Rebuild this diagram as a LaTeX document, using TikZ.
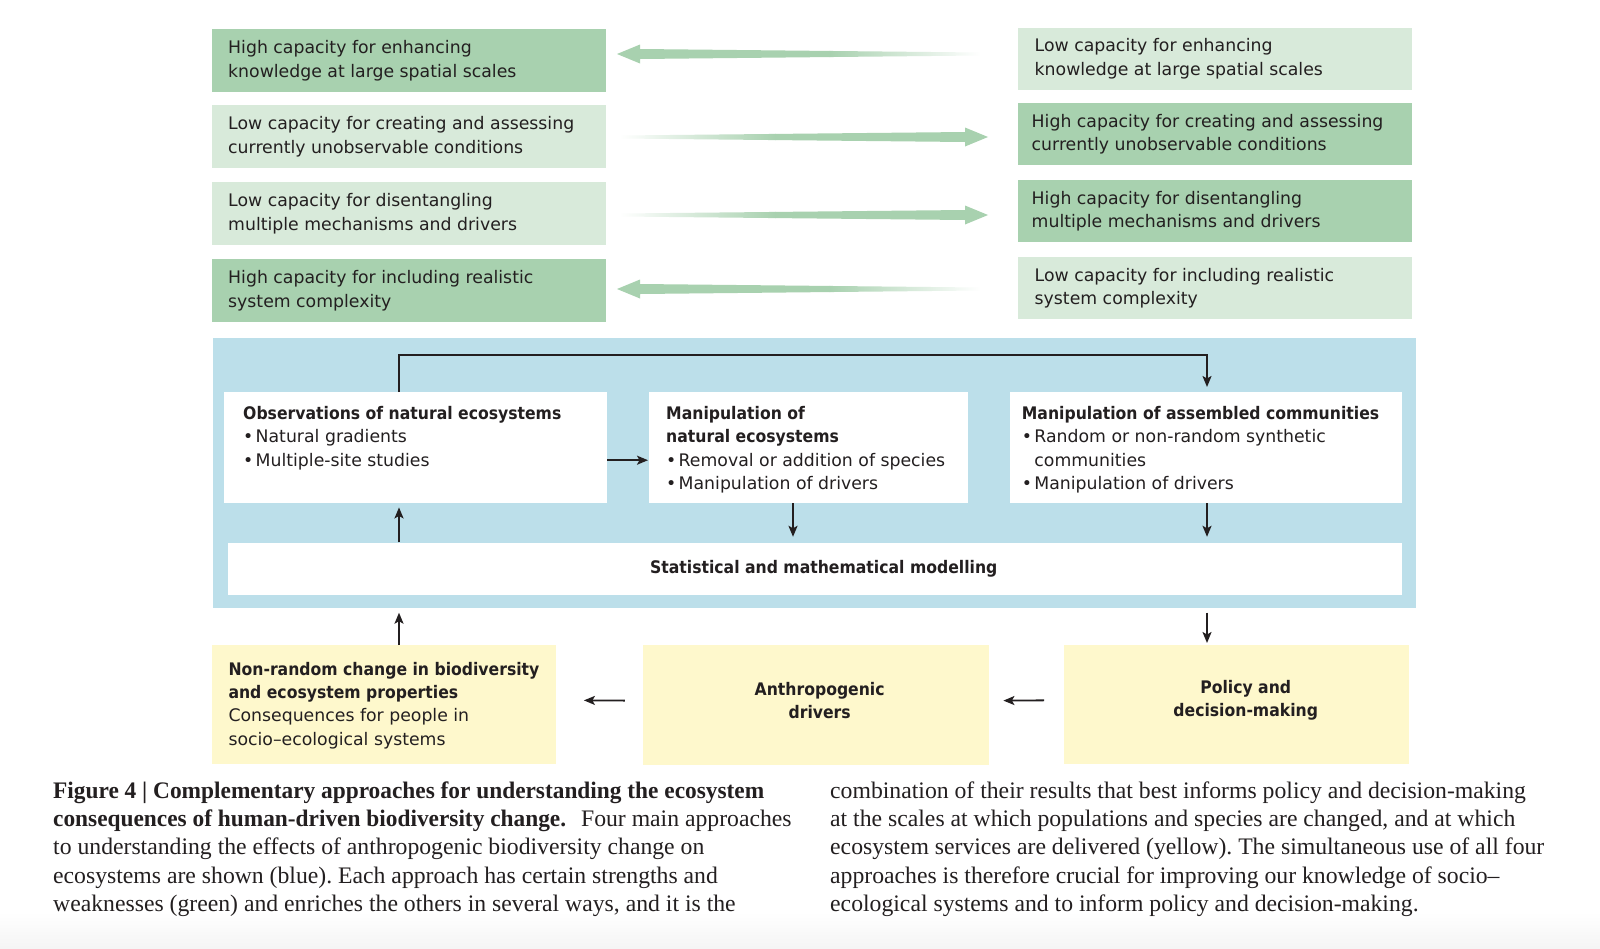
\documentclass[tikz,border=0pt]{standalone}
\usepackage{fontspec}
\setmainfont{Liberation Serif}[BoldFeatures={FakeStretch=0.985}]
\newfontfamily\boxfamily{DejaVu Sans}[BoldFeatures={FakeStretch=0.905}]
\usetikzlibrary{arrows.meta}
\definecolor{gdark}{HTML}{A8D1AF}
\definecolor{glight}{HTML}{D8EADA}
\definecolor{pblue}{HTML}{BCDFEA}
\definecolor{pyel}{HTML}{FEF8CC}
\definecolor{ink}{HTML}{231F20}
\newcommand\bxfont{\boxfamily\fontsize{17.3}{23.3}\selectfont}
\newcommand\capfont{\fontsize{23.7}{28.2}\selectfont\frenchspacing}
\newcommand\bul{\makebox[12.5pt][l]{•}}
\newcommand\bigleftarrow{%
  \fill[gdark] (617,0)--(640,-9.5)--(640,-5)--(830,-3.04)--(830,3.04)--(640,5)--(640,9.5)--cycle;
  \shade[left color=gdark,right color=white] (829.5,-3.04)--(980,-1.5)--(980,1.5)--(829.5,3.04)--cycle;}
\newcommand\bigrightarrow{%
  \fill[gdark] (988,0)--(965,-9.5)--(965,-5)--(775,-3.07)--(775,3.07)--(965,5)--(965,9.5)--cycle;
  \shade[left color=white,right color=gdark] (620,-1.5)--(775.5,-3.07)--(775.5,3.07)--(620,1.5)--cycle;}
\begin{document}
\begin{tikzpicture}[x=1pt,y=-1pt,
  box/.style={draw=none, inner sep=0pt, anchor=north west},
  gD/.style={box, fill=gdark, minimum width=394pt},
  gL/.style={box, fill=glight, minimum width=394pt},
  wbox/.style={box, fill=white},
  ybox/.style={box, fill=pyel},
  txt/.style={inner sep=0pt, align=left, font=\bxfont, text=ink},
  captxt/.style={inner sep=0pt, anchor=north west, align=left, font=\capfont, text=ink},
  conn/.style={draw=ink, line width=1.8pt, -{Stealth[length=11pt,width=9pt,inset=2.5pt]}},
]
\fill[white] (0,0) rectangle (1600,948);
\useasboundingbox (0,0) rectangle (1600,948);
\shade[top color=white,bottom color=black!4] (0,912) rectangle (1600,948);

% ---- green strengths / weaknesses ----
\node[gD, minimum height=63pt] (L1) at (212,29) {};
\node[gL, minimum height=63pt] (L2) at (212,105) {};
\node[gL, minimum height=63pt] (L3) at (212,182) {};
\node[gD, minimum height=63pt] (L4) at (212,259) {};
\node[gL, minimum height=62pt] (R1) at (1018,27.5) {};
\node[gD, minimum height=62pt] (R2) at (1018,103) {};
\node[gD, minimum height=62pt] (R3) at (1018,180) {};
\node[gL, minimum height=62pt] (R4) at (1018,257) {};

\node[txt, anchor=west, xshift=16pt] (tL1) at (L1.west) {High capacity for enhancing\\knowledge at large spatial scales};
\node[txt, anchor=west, xshift=16pt] (tL2) at (L2.west) {Low capacity for creating and assessing\\currently unobservable conditions};
\node[txt, anchor=west, xshift=16pt] (tL3) at (L3.west) {Low capacity for disentangling\\multiple mechanisms and drivers};
\node[txt, anchor=west, xshift=16pt] (tL4) at (L4.west) {High capacity for including realistic\\system complexity};
\node[txt, anchor=west, xshift=16.5pt] (tR1) at (R1.west) {Low capacity for enhancing\\knowledge at large spatial scales};
\node[txt, anchor=west, xshift=13.5pt] (tR2) at (R2.west) {High capacity for creating and assessing\\currently unobservable conditions};
\node[txt, anchor=west, xshift=13.5pt] (tR3) at (R3.west) {High capacity for disentangling\\multiple mechanisms and drivers};
\node[txt, anchor=west, xshift=16.5pt] (tR4) at (R4.west) {Low capacity for including realistic\\system complexity};

\begin{scope}[shift={(0,54)}]\bigleftarrow\end{scope}
\begin{scope}[shift={(0,137)}]\bigrightarrow\end{scope}
\begin{scope}[shift={(0,215)}]\bigrightarrow\end{scope}
\begin{scope}[shift={(0,289)}]\bigleftarrow\end{scope}

% ---- blue panel ----
\node[box, fill=pblue, minimum width=1202.6pt, minimum height=269.3pt] (panel) at (212.7,338) {};
\node[wbox, minimum width=383pt, minimum height=111pt] (obs) at (224,392) {};
\node[wbox, minimum width=318.3pt, minimum height=111pt] (nat) at (649,392) {};
\node[wbox, minimum width=392.7pt, minimum height=111pt] (asm) at (1009.3,392) {};
\node[wbox, minimum width=1174.4pt, minimum height=52.7pt] (model) at (227.6,542.3) {};

\node[txt, anchor=north west] (tobs) at (243,406.3) {\textbf{Observations of natural ecosystems}\\\bul Natural gradients\\\bul Multiple-site studies};
\node[txt, anchor=north west] (tnat) at (666,406.3) {\textbf{Manipulation of}\\\textbf{natural ecosystems}\\\bul Removal or addition of species\\\bul Manipulation of drivers};
\node[txt, anchor=north west] (tasm) at (1021.7,406.3) {\textbf{Manipulation of assembled communities}\\\bul Random or non-random synthetic\\\hspace*{12.5pt}communities\\\bul Manipulation of drivers};
\node[txt, font=\bxfont\bfseries, xshift=8.7pt] (tmodel) at (model.center) {Statistical and mathematical modelling};

% ---- yellow boxes ----
\node[ybox, minimum width=344.3pt, minimum height=119pt] (Y1) at (211.7,645) {};
\node[ybox, minimum width=346.7pt, minimum height=120pt] (Y2) at (642.3,645) {};
\node[ybox, minimum width=345pt, minimum height=119pt] (Y3) at (1064,645) {};
\node[txt, anchor=north west] (tY1) at (228.3,661.9) {\textbf{Non-random change in biodiversity}\\\textbf{and ecosystem properties}\\Consequences for people in\\socio–ecological systems};
\node[txt, align=center, xshift=3.8pt, yshift=4.5pt] (tY2) at (Y2.center) {\textbf{Anthropogenic}\\\textbf{drivers}};
\node[txt, align=center, xshift=9pt, yshift=4.5pt] (tY3) at (Y3.center) {\textbf{Policy and}\\\textbf{decision-making}};

% ---- connectors ----
\coordinate (xl) at (399,0);
\coordinate (xm) at (793,0);
\coordinate (xr) at (1207,0);
\coordinate (topy) at (0,355);
\draw[conn, shorten >=5pt] (xl |- obs.north) -- (xl |- topy) -| (xr |- asm.north);
\draw[conn, shorten >=1pt] ([yshift=-12.5pt]obs.east) -- ([yshift=-12.5pt]nat.west);
\draw[conn, shorten >=5.5pt] (xm |- nat.south) -- (xm |- model.north);
\draw[conn, shorten >=5.5pt] (xr |- asm.south) -- (xr |- model.north);
\draw[conn, shorten >=4pt] (xl |- model.north) -- (xl |- obs.south);
\draw[conn, shorten >=5pt] (xl |- Y1.north) -- (xl |- panel.south);
\draw[conn, shorten <=5pt, shorten >=2pt] (xr |- panel.south) -- (xr |- Y3.north);
\draw[conn, shorten <=17.5pt, shorten >=27.5pt] ([yshift=4.5pt]Y2.west) -- ([yshift=4.5pt]Y1.east);
\draw[conn, shorten <=20pt, shorten >=14pt] ([yshift=4.5pt]Y3.west) -- ([yshift=4.5pt]Y2.east);

% ---- caption ----
\node[captxt] (capL) at (53,781.5) {\textbf{Figure 4 | Complementary approaches for understanding the ecosystem}\\
\textbf{consequences of human-driven biodiversity change.}\hspace{9pt} Four main approaches\\
to understanding the effects of anthropogenic biodiversity change on\\
ecosystems are shown (blue). Each approach has certain strengths and\\
weaknesses (green) and enriches the others in several ways, and it is the};
\node[captxt] (capR) at (830,781.5) {combination of their results that best informs policy and decision-making\\
at the scales at which populations and species are changed, and at which\\
ecosystem services are delivered (yellow). The simultaneous use of all four\\
approaches is therefore crucial for improving our knowledge of socio–\\
ecological systems and to inform policy and decision-making.};
\end{tikzpicture}
\end{document}
